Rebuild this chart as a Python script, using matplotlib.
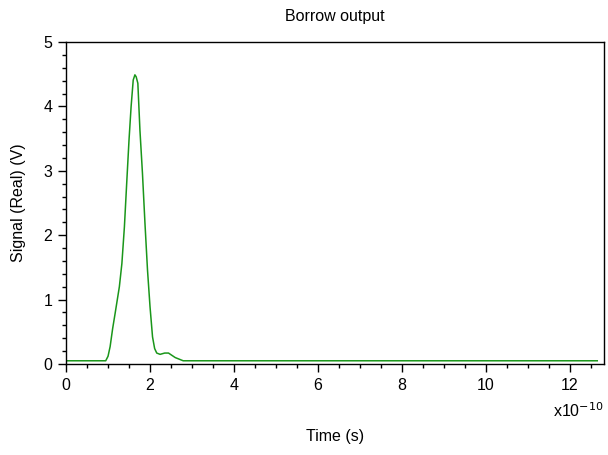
import numpy as np
import matplotlib
matplotlib.use('Agg')
import matplotlib.pyplot as plt
from matplotlib.ticker import MultipleLocator

plt.rcParams.update({
    'font.family': 'Liberation Sans',
    'font.size': 11.5,
})

# borrow output trace, time in units of 1e-10 s
time_e10 = [0.0, 0.945, 1.00, 1.05, 1.11, 1.17, 1.27, 1.33, 1.39, 1.44, 1.50, 1.55, 1.60,
            1.64, 1.67, 1.71, 1.76, 1.82, 1.88, 1.94, 2.00, 2.06, 2.11, 2.16, 2.24, 2.35,
            2.44, 2.60, 2.79, 12.65]
signal_v = [0.05, 0.05, 0.12, 0.27, 0.55, 0.79, 1.20, 1.56, 2.13, 2.75, 3.48, 4.00, 4.41,
            4.49, 4.46, 4.36, 3.63, 2.96, 2.18, 1.46, 0.89, 0.42, 0.24, 0.17, 0.15, 0.17,
            0.17, 0.10, 0.05, 0.05]

fig = plt.figure(figsize=(6.08, 4.55), dpi=100)
ax = fig.add_axes([0.1086, 0.2, 0.8848, 0.7077])
ax.plot(time_e10, signal_v, color='#1a961a', lw=1.1)

ax.set_xlim(0, 12.81)
ax.set_ylim(0, 5)
ax.xaxis.set_major_locator(MultipleLocator(2))
ax.xaxis.set_minor_locator(MultipleLocator(0.5))
ax.yaxis.set_major_locator(MultipleLocator(1))
ax.yaxis.set_minor_locator(MultipleLocator(0.2))

ax.tick_params(which='both', direction='out', top=False, right=False, width=1)
ax.tick_params(which='major', length=6, pad=4)
ax.tick_params(which='minor', length=3)
for s in ax.spines.values():
    s.set_linewidth(1)

# exponent of the time axis
ax.text(1.0, -0.145, r'x10$^{-10}$', transform=ax.transAxes, ha='right', va='center')

ax.set_title('Borrow output', fontsize=11.5, pad=15)
ax.set_xlabel('Time (s)', labelpad=26)
ax.set_ylabel('Signal (Real) (V)', labelpad=12)

fig.savefig('out.png', dpi=100)
